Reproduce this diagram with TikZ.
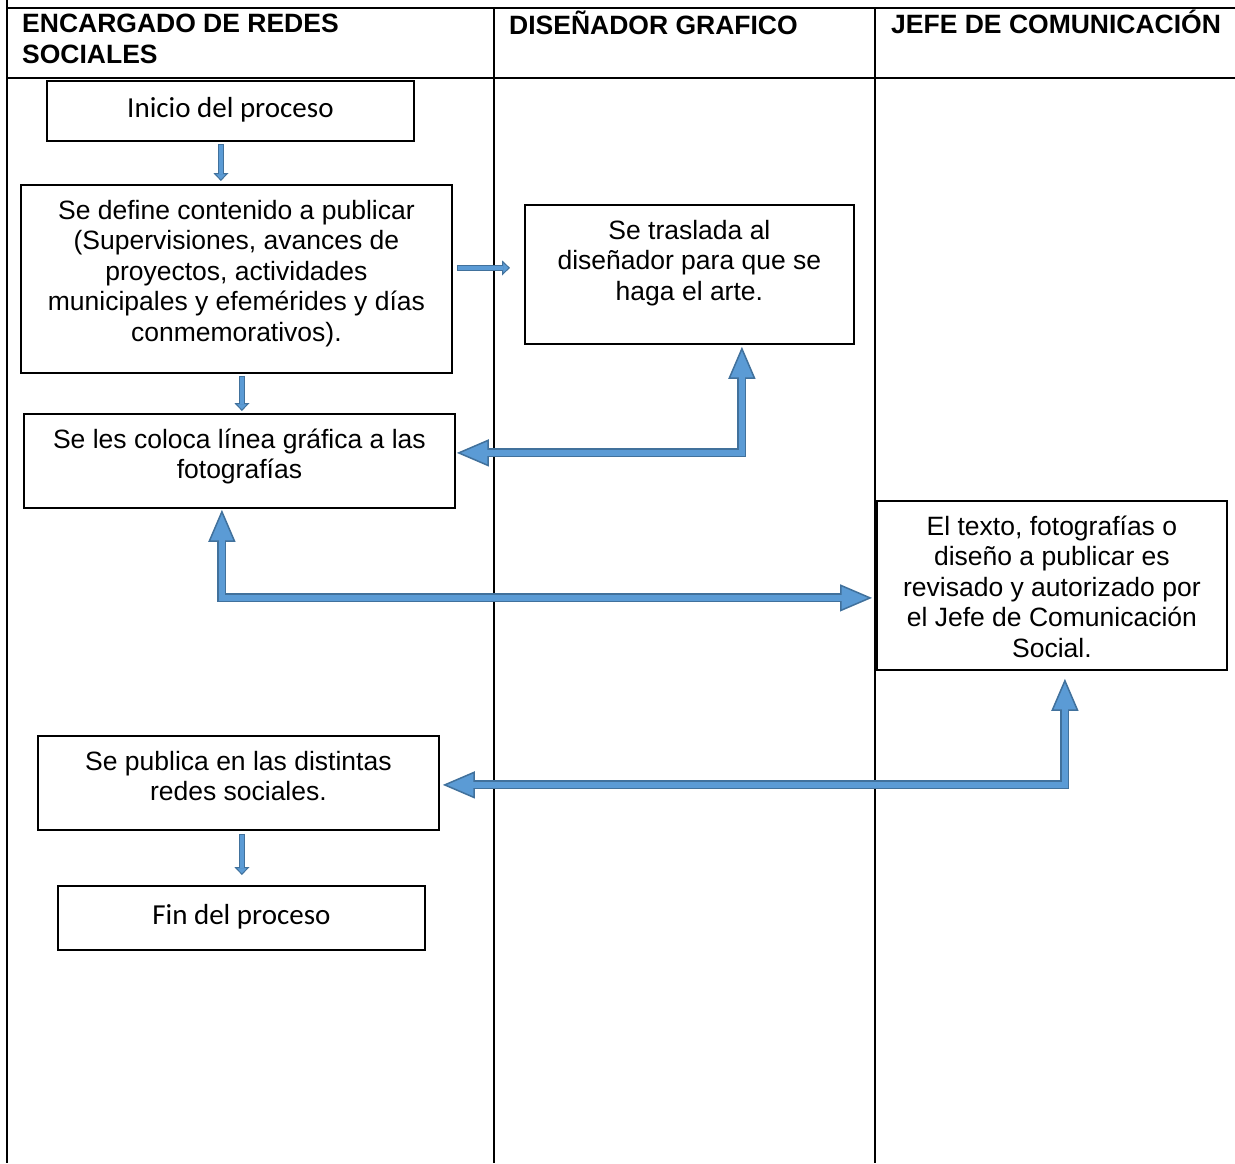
\documentclass[tikz,border=0pt]{standalone}
\usepackage{fontspec}
\setmainfont{Liberation Sans}
\newfontfamily\calibri{Carlito}
\usepackage{tikz}
\usetikzlibrary{arrows.meta,calc}

\definecolor{relleno}{RGB}{91,155,213}
\definecolor{borde}{RGB}{65,113,156}

% caja de texto: ancho, alto, texto (arriba) / (centrado)
\newcommand{\cajaarriba}[3]{\parbox[c][#2][t]{#1}{\centering\vspace*{13pt}\strut #3}}
\newcommand{\cajacentro}[3]{\parbox[c][#2][c]{#1}{\centering\strut #3}}

\tikzset{
  caja/.style={draw, line width=1.8pt, inner sep=0pt, anchor=north west},
  titulo/.style={inner sep=0pt, anchor=north west, align=left,
    font=\bfseries\fontsize{26.5}{31}\selectfont},
  flecha/.style={draw=borde, line width=9pt, line join=miter,
    {Triangle[length=32pt,width=27pt,fill=relleno,line width=1.5pt]}-{Triangle[length=32pt,width=27pt,fill=relleno,line width=1.5pt]},
    postaction={draw=relleno, line width=6pt, -, shorten <=30pt, shorten >=30pt}},
  flechita/.style={draw=borde, line width=6pt,
    -{Triangle[length=8pt,width=15pt,fill=relleno,line width=1pt]},
    postaction={draw=relleno, line width=4pt, -, shorten <=1pt, shorten >=7pt}}
}

\begin{document}
\begin{tikzpicture}[x=1pt,y=-1pt,font=\fontsize{26.5}{30.5}\selectfont]
  \useasboundingbox (0,0) rectangle (1235,1163);

  % tabla
  \draw[line width=2pt] (7,0) -- (7,1163);
  \draw[line width=2pt] (7,8) -- (1235,8);
  \draw[line width=2pt] (7,78) -- (1235,78);
  \draw[line width=2pt] (494,8) -- (494,1163);
  \draw[line width=2pt] (875,8) -- (875,1163);

  \node[titulo] (col1) at (22,10.3) {\strut ENCARGADO DE REDES\\SOCIALES};
  \node[titulo] (col2) at (509,10.3) {\strut DISEÑADOR GRAFICO};
  \node[titulo] (col3) at (891,10.3) {\strut JEFE DE COMUNICACIÓN};

  % cajas
  \node[caja] (inicio) at (46,80)
    {\calibri\fontsize{29}{35}\selectfont\cajacentro{367pt}{60pt}{Inicio del proceso}};
  \node[caja] (define) at (20,184)
    {\cajaarriba{431pt}{188pt}{Se define contenido a publicar\\(Supervisiones, avances de\\proyectos, actividades\\municipales y efemérides y días\\conmemorativos).}};
  \node[caja] (traslada) at (524,204)
    {\cajaarriba{329pt}{139pt}{Se traslada al\\diseñador para que se\\haga el arte.}};
  \node[caja] (coloca) at (23,413)
    {\cajaarriba{431pt}{94pt}{Se les coloca línea gráfica a las\\fotografías}};
  \node[caja] (jefe) at (876,500)
    {\cajaarriba{350pt}{169pt}{El texto, fotografías o\\diseño a publicar es\\revisado y autorizado por\\el Jefe de Comunicación\\Social.}};
  \node[caja] (publica) at (37,735)
    {\cajaarriba{401pt}{94pt}{Se publica en las distintas\\redes sociales.}};
  \node[caja] (fin) at (57,885)
    {\calibri\fontsize{29}{35}\selectfont\cajacentro{367pt}{64pt}{Fin del proceso}};

  % flechas
  \draw[flechita] ($(inicio.south)+(-9.5,2)$) -- ($(inicio.south |- define.north)+(-9.5,-3)$);
  \draw[flechita] ($(define.east)+(4,-11)$) -- ($(define.east -| traslada.west)+(-14,-11)$);
  \draw[flechita] ($(define.south)+(5.5,2)$) -- ($(define.south |- coloca.north)+(5.5,-2)$);
  \draw[flecha] ($(traslada.south)+(52.5,2)$) |- ($(coloca.east)+(1,-8)$);
  \draw[flecha] ($(coloca.south)+(-17.5,1)$) |- ($(jefe.west)+(-4,12.5)$);
  \draw[flecha] ($(jefe.south)+(13,8)$) |- ($(publica.east)+(3,2)$);
  \draw[flechita] ($(publica.south)+(3.5,3)$) -- ($(publica.south |- fin.north)+(3.5,-10)$);
\end{tikzpicture}
\end{document}
